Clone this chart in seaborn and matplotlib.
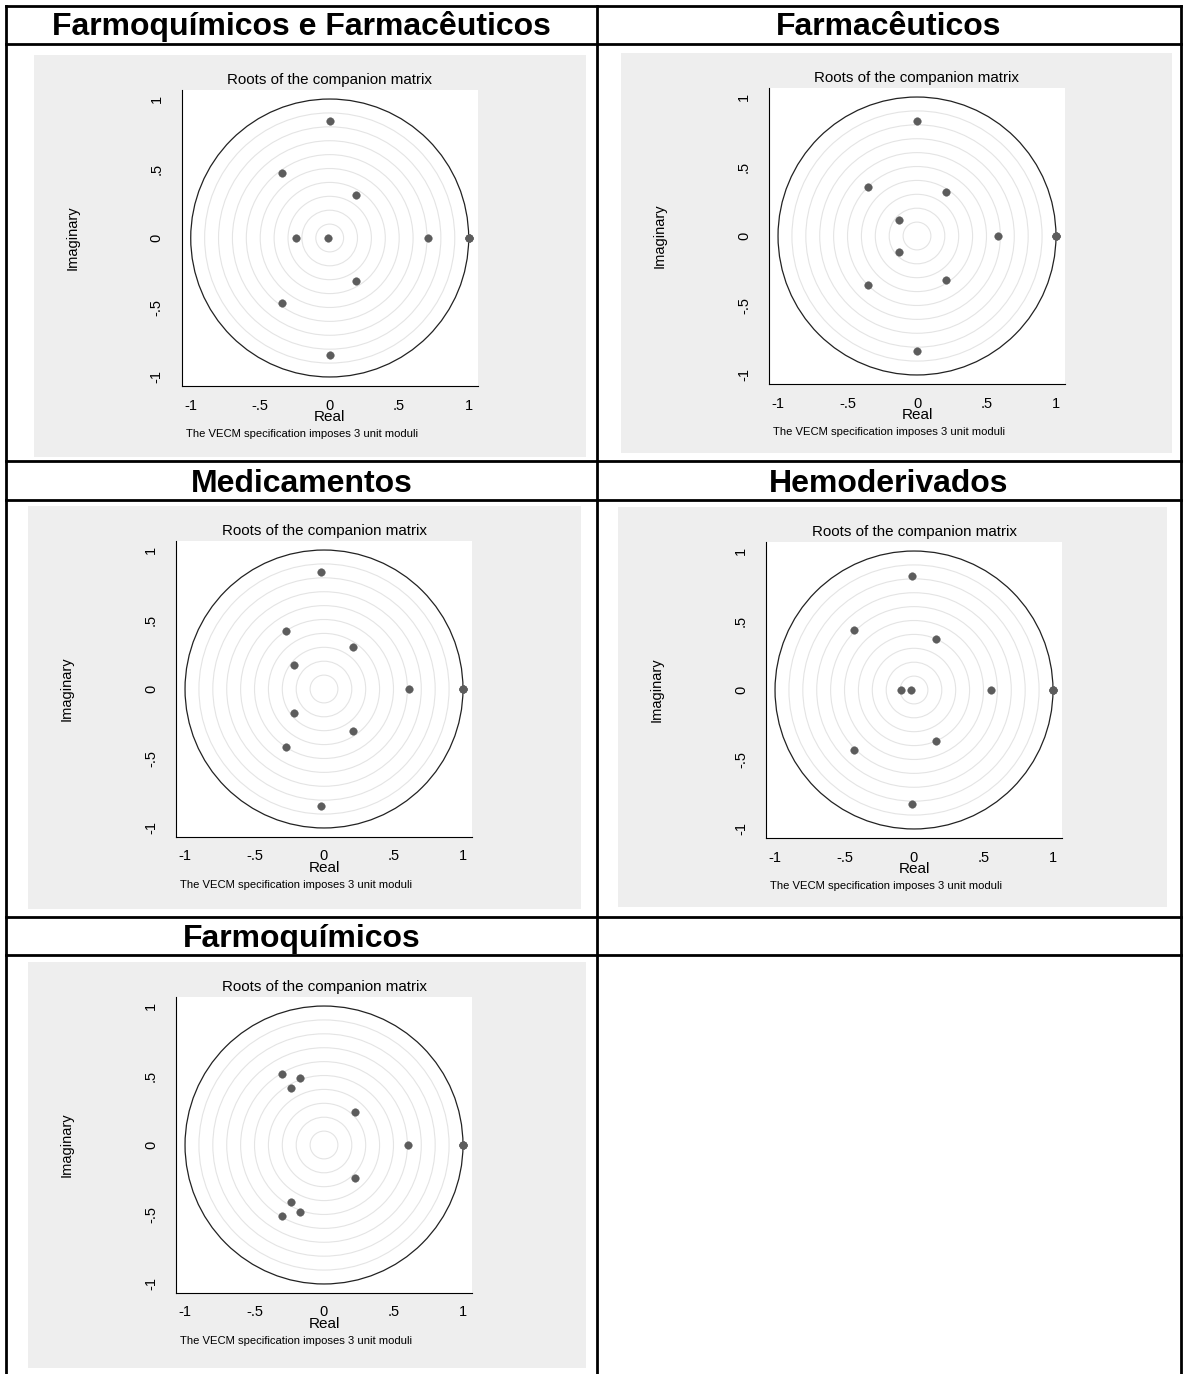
import numpy as np
import pandas as pd
import matplotlib
matplotlib.use("Agg")
import matplotlib.pyplot as plt
from matplotlib.patches import Circle, Rectangle
import seaborn as sns

sns.set_theme(style="white")
plt.rcParams["font.family"] = ["Liberation Sans", "DejaVu Sans"]

# ---- eigenvalues of the companion matrix for each sector (real / imaginary parts) ----
titles = ["Farmoquímicos e Farmacêuticos", "Farmacêuticos", "Medicamentos",
          "Hemoderivados", "Farmoquímicos"]

re_farmoq_farmac = [0.003, -0.343, 0.187, -0.245, -0.011, 0.709, 1.0, 1.0, 1.0, 0.187, -0.343, 0.003]
im_farmoq_farmac = [0.845, 0.471, 0.312, 0.0, 0.0, 0.0, 0.0, 0.0, 0.0, -0.312, -0.471, -0.845]

re_farmac = [0.0, -0.356, 0.209, -0.133, -0.133, 0.584, 1.0, 1.0, 1.0, -0.356, 0.209, 0.0]
im_farmac = [0.824, 0.350, 0.320, 0.115, -0.115, 0.0, 0.0, 0.0, 0.0, -0.350, -0.320, -0.824]

re_medic = [-0.022, -0.273, 0.212, -0.218, 0.612, 1.0, 1.0, 1.0, -0.218, 0.212, -0.273, -0.022]
im_medic = [0.845, 0.420, 0.301, 0.176, 0.0, 0.0, 0.0, 0.0, -0.176, -0.301, -0.420, -0.845]

re_hemo = [-0.011, -0.432, 0.156, -0.093, -0.022, 0.555, 1.0, 1.0, 1.0, 0.156, -0.432, -0.011]
im_hemo = [0.822, 0.431, 0.366, 0.0, 0.0, 0.0, 0.0, 0.0, 0.0, -0.366, -0.431, -0.822]

re_farmoq = [-0.300, -0.172, -0.237, 0.226, 0.605, 1.0, 1.0, 1.0, 0.226, -0.237, -0.172, -0.300]
im_farmoq = [0.512, 0.481, 0.407, 0.239, 0.0, 0.0, 0.0, 0.0, -0.239, -0.407, -0.481, -0.512]

series = [(re_farmoq_farmac, im_farmoq_farmac), (re_farmac, im_farmac), (re_medic, im_medic),
          (re_hemo, im_hemo), (re_farmoq, im_farmoq)]

tick_vals = [-1, -0.5, 0, 0.5, 1]
tick_labels = ["-1", "-.5", "0", ".5", "1"]
grid_radii = [0.1, 0.2, 0.3, 0.4, 0.5, 0.6, 0.7, 0.8, 0.9]
plot_title = "Roots of the companion matrix"
note_text = "The VECM specification imposes 3 unit moduli"

# ---- page layout (pixels) ----
W, H = 1183, 1374
fig = plt.figure(figsize=(W / 100, H / 100), dpi=100)
fig.patch.set_facecolor("white")

page = fig.add_axes([0, 0, 1, 1])
page.set_xlim(0, W)
page.set_ylim(H, 0)
page.axis("off")


def px_box(x, y, w, h):
    return [x / W, 1 - (y + h) / H, w / W, h / H]


# table grid
lw_tab = 2.0
x_left, x_mid, x_right = 6.5, 596.7, 1181
for yy in [5.5, 43.5, 461, 500, 917, 955]:
    page.plot([x_left, x_right], [yy, yy], color="black", lw=lw_tab, solid_capstyle="projecting")
for xx in [x_left, x_mid, x_right]:
    page.plot([xx, xx], [5.5, H], color="black", lw=lw_tab, solid_capstyle="projecting")

# section headings
col_centers = [301.6, 888.9]
heading_baselines = [35, 492, 947]
heading_pos = [(col_centers[0], heading_baselines[0]), (col_centers[1], heading_baselines[0]),
               (col_centers[0], heading_baselines[1]), (col_centers[1], heading_baselines[1]),
               (col_centers[0], heading_baselines[2])]
for t, (cx, by) in zip(titles, heading_pos):
    page.text(cx, by, t, ha="center", va="baseline", fontsize=23, fontweight="bold",
              color="black")

# graph panels (grey graph region)
panels = [(33.7, 55, 552, 402), (621, 53, 551, 400), (28, 506, 553, 403),
          (618, 507, 549, 400), (28, 962, 558, 406)]

lim = 1.065
side = 296
for (gx, gy, gw, gh), (re, im) in zip(panels, series):
    page.add_patch(Rectangle((gx, gy), gw, gh, facecolor="#eeeeee", edgecolor="none"))
    ax = fig.add_axes(px_box(gx + 148, gy + 35, side, side))
    ax.set_facecolor("white")

    for r in grid_radii:
        ax.add_patch(Circle((0, 0), r, fill=False, edgecolor="#e4e4e4", lw=0.8, zorder=1))
    ax.add_patch(Circle((0, 0), 1.0, fill=False, edgecolor="#222222", lw=0.9, zorder=2))

    df = pd.DataFrame({"Real": re, "Imaginary": im})
    sns.scatterplot(data=df, x="Real", y="Imaginary", ax=ax, color="#5c5c5c",
                    edgecolor="#5c5c5c", s=30, linewidth=0.3, zorder=3, legend=False)

    ax.set_xlim(-lim, lim)
    ax.set_ylim(-lim, lim)
    ax.set_xticks(tick_vals)
    ax.set_xticklabels(tick_labels)
    ax.set_yticks(tick_vals)
    ax.set_yticklabels(tick_labels)
    for s in ["top", "right"]:
        ax.spines[s].set_visible(False)
    for s in ["left", "bottom"]:
        ax.spines[s].set_color("black")
        ax.spines[s].set_linewidth(0.8)
    ax.tick_params(axis="both", which="both", direction="out", length=4, width=0.8,
                   color="black", labelsize=10.5, labelcolor="black")
    ax.tick_params(axis="x", pad=5)
    ax.tick_params(axis="y", pad=9, labelrotation=90)
    for lab in ax.get_yticklabels():
        lab.set_va("center")
        lab.set_ha("right")
    ax.grid(False)

    ax.set_xlabel("Real", fontsize=11, color="black")
    ax.xaxis.set_label_coords(0.5, -31 / side)
    ax.xaxis.label.set_va("center")
    ax.set_ylabel("Imaginary", fontsize=10.5, color="black")
    ax.yaxis.set_label_coords(-109 / side, 0.5)
    ax.yaxis.label.set_va("center")

    ax.set_title(plot_title, fontsize=10.9, color="black", y=1 + 10 / side, pad=0, va="center")
    ax.text(4 / side, -48 / side, note_text, transform=ax.transAxes, ha="left", va="center",
            fontsize=8.1, color="black")

fig.savefig("out.png", dpi=100)
